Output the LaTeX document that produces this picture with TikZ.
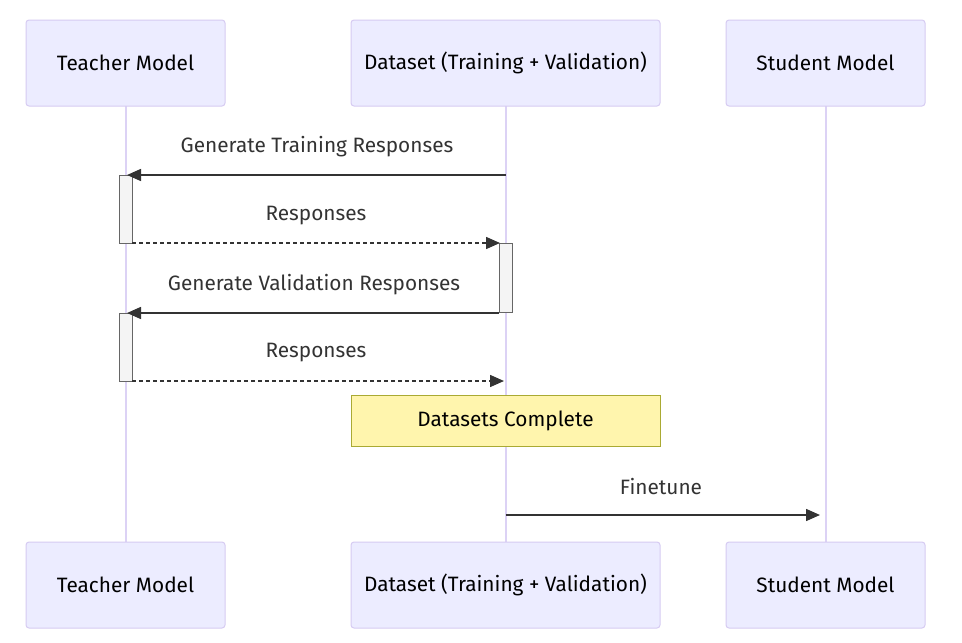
\documentclass[tikz,border=0pt]{standalone}
\usepackage{fontspec}
\setmainfont{Fira Sans}
\usetikzlibrary{arrows.meta}
\definecolor{actfill}{HTML}{ECECFF}
\definecolor{actline}{HTML}{D6CBF2}
\definecolor{lifeline}{HTML}{DCD2F5}
\definecolor{msgcol}{HTML}{333333}
\definecolor{notefill}{HTML}{FFF5AD}
\definecolor{noteline}{HTML}{AAAA33}
\definecolor{actvfill}{HTML}{F4F4F4}
\definecolor{actvline}{HTML}{666666}
\tikzset{
  txt/.style={font=\fontsize{20.8}{24}\selectfont},
  actorbox/.style={draw=actline, fill=actfill, line width=1pt, rounded corners=3pt, minimum height=86pt, inner sep=0pt, txt, text=black},
  lifelinestyle/.style={draw=lifeline, line width=2pt},
  activation/.style={draw=actvline, fill=actvfill, line width=1pt, minimum width=13pt, inner sep=0pt},
  msg/.style={draw=msgcol, line width=1.5pt, -{Triangle[length=14pt,width=12pt]}},
  reply/.style={msg, dash pattern=on 3.5pt off 3.5pt},
  msglabel/.style={txt, text=msgcol, inner sep=0pt},
  notebox/.style={draw=noteline, fill=notefill, line width=1pt, minimum width=309pt, minimum height=51pt, inner sep=0pt, txt, text=black}
}
\begin{document}
\begin{tikzpicture}[x=1pt,y=-1pt]
\useasboundingbox[fill=white] (0,0) rectangle (962,643);
% lifelines
\coordinate (tT) at (125.5,106);
\coordinate (tB) at (125.5,542);
\coordinate (dT) at (505.5,106);
\coordinate (dB) at (505.5,542);
\coordinate (sT) at (825.5,106);
\coordinate (sB) at (825.5,542);
\draw[lifelinestyle] (tT) -- (tB);
\draw[lifelinestyle] (dT) -- (dB);
\draw[lifelinestyle] (sT) -- (sB);
% actors
\node[actorbox, minimum width=199pt] (teacherTop) at (125.5,63) {Teacher Model};
\node[actorbox, minimum width=309pt] (dataTop) at (505.5,63) {Dataset (Training + Validation)};
\node[actorbox, minimum width=199pt] (studentTop) at (825.5,63) {Student Model};
\node[actorbox, minimum width=199pt] (teacherBot) at (125.5,585) {Teacher Model};
\node[actorbox, minimum width=309pt] (dataBot) at (505.5,585) {Dataset (Training + Validation)};
\node[actorbox, minimum width=199pt] (studentBot) at (825.5,585) {Student Model};
% activations
\node[activation, minimum height=68pt] (act1) at (125.5,209) {};
\node[activation, minimum height=69pt] (act2) at (505.5,277.5) {};
\node[activation, minimum height=68pt] (act3) at (125.5,347) {};
% message endpoints
\coordinate (m1s) at (505.5,175);
\coordinate (m1e) at (127,175);
\coordinate (m2s) at (132,243);
\coordinate (m2e) at (500,243);
\coordinate (m3s) at (499,313);
\coordinate (m3e) at (127,313);
\coordinate (m4s) at (132,381);
\coordinate (m4e) at (504,381);
\coordinate (m5s) at (505.5,515);
\coordinate (m5e) at (820,515);
\draw[msg] (m1s) -- (m1e);
\draw[reply] (m2s) -- (m2e);
\draw[msg] (m3s) -- (m3e);
\draw[reply] (m4s) -- (m4e);
\draw[msg] (m5s) -- (m5e);
% labels
\node[msglabel] (l1) at (317,147) {Generate Training Responses};
\node[msglabel] (l2) at (316,216) {Responses};
\node[msglabel] (l3) at (314,285) {Generate Validation Responses};
\node[msglabel] (l4) at (316,353) {Responses};
\node[msglabel] (l5) at (661,487) {Finetune};
% note
\node[notebox] (note) at (505.5,420.5) {Datasets Complete};
\end{tikzpicture}
\end{document}
